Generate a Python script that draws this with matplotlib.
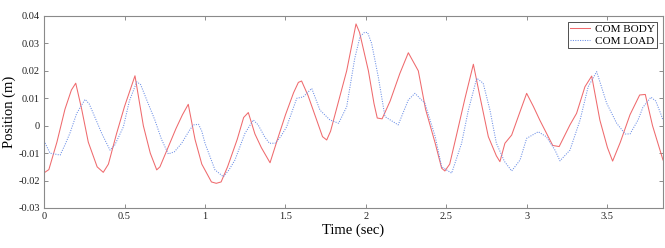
import matplotlib
matplotlib.use('Agg')
import matplotlib.pyplot as plt

# COM BODY (red solid)
t_body = [0, 0.03, 0.08, 0.13, 0.17, 0.197, 0.234, 0.275, 0.33, 0.368, 0.40, 0.45, 0.50,
          0.565, 0.617, 0.66, 0.70, 0.72, 0.77, 0.82, 0.86, 0.896, 0.938, 0.98, 1.04,
          1.07, 1.10, 1.14, 1.20, 1.24, 1.269, 1.31, 1.35, 1.404, 1.45, 1.50, 1.55,
          1.58, 1.60, 1.64, 1.70, 1.73, 1.756, 1.78, 1.83, 1.88, 1.938, 1.96, 2.015,
          2.05, 2.07, 2.10, 2.15, 2.21, 2.263, 2.325, 2.37, 2.43, 2.47, 2.49, 2.52,
          2.56, 2.615, 2.667, 2.708, 2.76, 2.81, 2.832, 2.863, 2.905, 2.95, 2.998,
          3.04, 3.08, 3.16, 3.20, 3.267, 3.308, 3.36, 3.402, 3.453, 3.50, 3.532, 3.58,
          3.64, 3.70, 3.735, 3.78, 3.845]
y_body = [-0.0172, -0.016, -0.006, 0.006, 0.013, 0.0155, 0.006, -0.006, -0.015, -0.017,
          -0.014, -0.003, 0.007, 0.0182, 0.000, -0.010, -0.0161, -0.015, -0.008, -0.001,
          0.004, 0.0078, -0.005, -0.014, -0.0205, -0.021, -0.0205, -0.015, -0.005, 0.003,
          0.0048, -0.003, -0.008, -0.0135, -0.005, 0.004, 0.012, 0.0158, 0.0163, 0.011,
          0.001, -0.004, -0.0052, -0.002, 0.009, 0.020, 0.0371, 0.034, 0.020, 0.008,
          0.0028, 0.0025, 0.009, 0.019, 0.0266, 0.020, 0.006, -0.0064, -0.0155, -0.0165,
          -0.014, -0.004, 0.010, 0.0224, 0.0106, -0.004, -0.011, -0.0131, -0.0064,
          -0.0034, 0.004, 0.0118, 0.007, 0.002, -0.0072, -0.0076, 0.0003, 0.0045, 0.0142,
          0.0181, 0.002, -0.008, -0.0129, -0.006, 0.004, 0.0112, 0.0114, 0.000, -0.0125]

# COM LOAD (blue dotted)
t_load = [0, 0.037, 0.10, 0.13, 0.161, 0.203, 0.255, 0.28, 0.306, 0.36, 0.41, 0.44, 0.493,
          0.53, 0.576, 0.60, 0.638, 0.689, 0.73, 0.772, 0.81, 0.855, 0.90, 0.927, 0.96,
          0.98, 1.0, 1.062, 1.114, 1.15, 1.186, 1.248, 1.30, 1.33, 1.37, 1.40, 1.435,
          1.47, 1.507, 1.57, 1.61, 1.663, 1.714, 1.776, 1.83, 1.88, 1.93, 1.963, 1.99,
          2.01, 2.035, 2.076, 2.118, 2.2, 2.263, 2.304, 2.366, 2.43, 2.47, 2.532, 2.594,
          2.636, 2.688, 2.728, 2.77, 2.81, 2.86, 2.905, 2.957, 2.998, 3.07, 3.12, 3.174,
          3.205, 3.267, 3.33, 3.38, 3.433, 3.495, 3.557, 3.61, 3.64, 3.69, 3.72, 3.77,
          3.80, 3.83, 3.845]
y_load = [-0.0055, -0.010, -0.0107, -0.007, -0.0027, 0.0045, 0.0096, 0.008, 0.0045, -0.003,
          -0.0089, -0.007, -0.0004, 0.009, 0.016, 0.015, 0.0094, 0.002, -0.005, -0.0103,
          -0.0095, -0.0064, -0.002, 0.0003, 0.0005, -0.002, -0.0064, -0.0161, -0.0186,
          -0.016, -0.0125, -0.0028, 0.0021, 0.0003, -0.004, -0.0064, -0.0064, -0.004,
          -0.0004, 0.010, 0.0105, 0.0136, 0.0057, 0.0021, 0.0009, 0.0069, 0.0245, 0.0325,
          0.034, 0.034, 0.030, 0.0179, 0.0033, 0.0003, 0.0094, 0.0118, 0.0082, -0.004,
          -0.015, -0.0173, -0.0064, 0.0057, 0.0173, 0.0155, 0.0057, -0.0064, -0.013,
          -0.0165, -0.0125, -0.0046, -0.0022, -0.004, -0.0089, -0.0128, -0.0089, 0.0021,
          0.0142, 0.0197, 0.0082, 0.0009, -0.003, -0.003, 0.0021, 0.0067, 0.0104, 0.009,
          0.0045, 0.002]

x_ticks = [0, 0.5, 1, 1.5, 2, 2.5, 3, 3.5]
x_tick_labels = ['0', '0.5', '1', '1.5', '2', '2.5', '3', '3.5']
y_ticks = [-0.03, -0.02, -0.01, 0, 0.01, 0.02, 0.03, 0.04]
y_tick_labels = ['-0.03', '-0.02', '-0.01', '0', '0.01', '0.02', '0.03', '0.04']

plt.rcParams['font.family'] = ['Liberation Serif', 'DejaVu Serif']

fig = plt.figure(figsize=(6.65, 2.48), dpi=100)
ax = fig.add_axes([0.0662, 0.1613, 0.9308, 0.7742])

ax.plot(t_body, y_body, '-', color='#ef6a6d', linewidth=0.75, label='COM BODY')
ax.plot(t_load, y_load, linestyle=(0, (1, 1.3)), color='#6b8ee6', linewidth=0.75,
        label='COM LOAD')

ax.set_xlim(0, 3.845)
ax.set_ylim(-0.03, 0.04)
ax.set_xticks(x_ticks)
ax.set_xticklabels(x_tick_labels)
ax.set_yticks(y_ticks)
ax.set_yticklabels(y_tick_labels)
ax.tick_params(direction='in', top=True, right=True, length=3, width=0.6,
               labelsize=7.5, colors='#7a7a7a', labelcolor='#222222', pad=3)
for s in ax.spines.values():
    s.set_color('#8a8a8a')
    s.set_linewidth(0.8)

ax.set_xlabel('Time (sec)', fontsize=10.5, labelpad=2)
ax.set_ylabel('Position (m)', fontsize=10.5, labelpad=2)

leg = ax.legend(loc='upper right', fontsize=8, fancybox=False, framealpha=1,
                edgecolor='#333333', handlelength=1.8, handletextpad=0.4,
                borderpad=0.25, labelspacing=0.15, borderaxespad=0.5)
leg.get_frame().set_linewidth(0.6)

plt.savefig('out.png', dpi=100)
